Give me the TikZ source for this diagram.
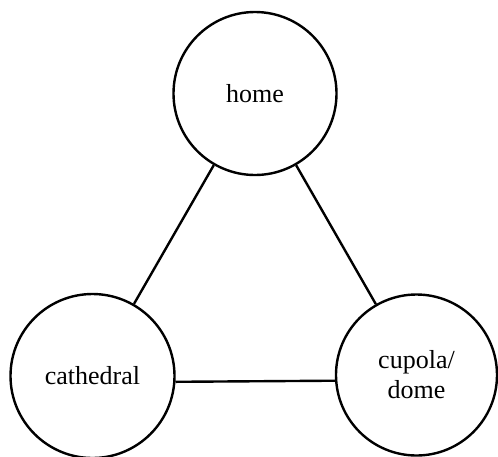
\documentclass[tikz,border=0pt]{standalone}
\usepackage{fontspec}
\setmainfont{Liberation Serif}
\begin{document}
\begin{tikzpicture}[x=1pt,y=-1pt,
  concept/.style={draw, circle, line width=2.4pt, inner sep=0pt, align=center,
    font=\fontsize{26}{30}\selectfont},
  link/.style={line width=2.4pt}]
  \useasboundingbox (0,0) rectangle (498,456);
  % the three concepts
  \node[concept, minimum size=163pt] (home) at (255,93.5) {home};
  \node[concept, minimum size=164pt] (cathedral) at (92.5,376) {cathedral};
  \node[concept, minimum size=161pt] (cupola) at (416.5,375) {cupola/\\dome};
  % links between them
  \draw[link] (home) -- (cathedral);
  \draw[link] (home) -- (cupola);
  \draw[link] (cathedral.-4) -- (cupola.184);
\end{tikzpicture}
\end{document}
